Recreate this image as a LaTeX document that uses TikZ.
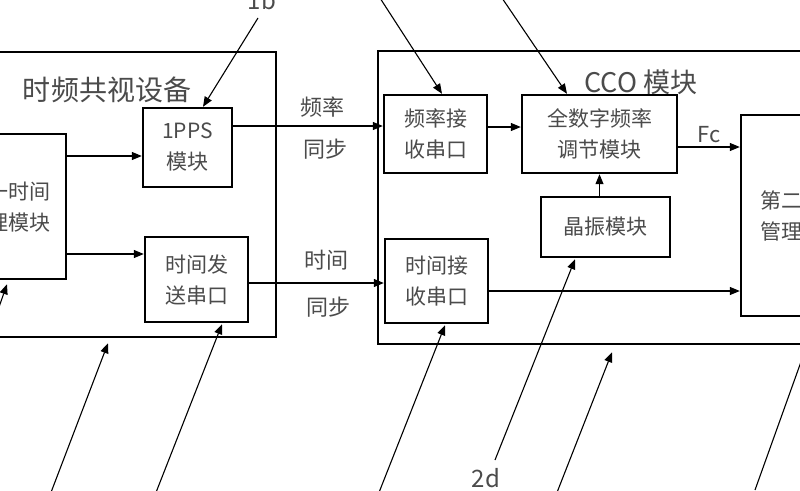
\documentclass[tikz,border=0pt]{standalone}
\usepackage{fontspec}
\setmainfont{Noto Sans CJK SC}
\usetikzlibrary{arrows.meta, calc, positioning}
\definecolor{txtgray}{RGB}{75,75,75}

\tikzset{
  blk/.style={draw, line width=2.4pt, inner sep=0pt, align=center, text=txtgray, font=\fontsize{21}{31}\selectfont},
  arr/.style={-{Triangle[length=10pt,width=8pt]}, line width=1.1pt},
  lbl/.style={text=txtgray, font=\fontsize{22}{26}\selectfont},
}

\begin{document}
\begin{tikzpicture}[x=1pt,y=-1pt]
    \path[use as bounding box, clip] (0,0) rectangle (800,490);
    \fill[white] (0,0) rectangle (800,490);

    % Draw the outer boxes
    \node[blk, minimum width=338pt, minimum height=285pt] (sysbox) at (107,194.5) {};
    \node[blk, minimum width=522pt, minimum height=293pt] (ccobox) at (639,197.5) {};
    \node[lbl, font=\fontsize{28}{30}\selectfont] (systitle) at (107,90) {时频共视设备};
    \node[lbl, font=\fontsize{27}{30}\selectfont] (ccotitle) at (641,82) {CCO 模块};

    % Draw the modules
    \node[blk, minimum width=114pt, minimum height=145pt] (mgmt1) at (9,206.5) {第一时间\\管理模块};
    \node[blk, minimum width=89pt, minimum height=79pt] (pps) at (187.5,147.5) {1PPS\\模块};
    \node[blk, minimum width=103pt, minimum height=85pt] (tsend) at (196.5,279.5) {时间发\\送串口};
    \node[blk, minimum width=103pt, minimum height=78pt] (frx) at (435.5,134) {频率接\\收串口};
    \node[blk, minimum width=155pt, minimum height=78pt] (dfc) at (599.5,134) {全数字频率\\调节模块};
    \node[blk, minimum width=129pt, minimum height=60pt] (xtal) at (605.5,227) {晶振模块};
    \node[blk, minimum width=103pt, minimum height=84pt] (trx) at (436.5,281) {时间接\\收串口};
    \node[blk, minimum width=122pt, minimum height=201pt] (mgmt2) at (802,215.5) {第二时间\\管理模块};

    % Draw the signal paths
    \draw[arr] ($(mgmt1.east |- pps.west)+(0,8.5)$) -- ($(pps.west)+(0,8.5)$);
    \draw[arr] ($(mgmt1.east |- tsend.west)+(0,-25.5)$) -- ($(tsend.west)+(0,-25.5)$);
    \draw[arr] ($(pps.east)+(0,-21.5)$) -- ($(frx.west |- pps.east)+(0,-21.5)$);
    \draw[arr] ($(tsend.east)+(0,3.5)$) -- ($(trx.west |- tsend.east)+(0,3.5)$);
    \draw[arr] ($(frx.east)+(0,-7)$) -- ($(dfc.west)+(0,-7)$);
    \draw[arr] ($(dfc.east)+(0,13)$) -- node[lbl, above=0pt] (fclbl) {Fc} ($(mgmt2.west |- dfc.east)+(0,13)$);
    \draw[arr] (xtal.north -| dfc.south) -- (dfc.south);
    \draw[arr] ($(trx.east)+(0,10)$) -- ($(mgmt2.west |- trx.east)+(0,10)$);

    % Label the links
    \node[lbl] (frqlbl) at (322,107) {频率};
    \node[lbl] (frqsync) at (325,149) {同步};
    \node[lbl] (timelbl) at (326,260) {时间};
    \node[lbl] (timesync) at (328,307) {同步};

    % Draw the reference leaders
    \node[lbl, font=\fontsize{24}{26}\selectfont] (lab1b) at (262,0) {1b};
    \coordinate (p1b) at (258,18);
    \draw[arr] (p1b) -- ([xshift=15.5pt]pps.north);
    \coordinate (pfrx) at (380,-2);
    \draw[arr] (pfrx) -- ([xshift=6.5pt]frx.north);
    \coordinate (pdfc) at (502,-2);
    \draw[arr] (pdfc) -- ([xshift=-32.5pt]dfc.north);
    \coordinate (psys) at (50,495);
    \draw[arr] (psys) -- ([xshift=1pt,yshift=-5pt]sysbox.south);
    \coordinate (ptsend) at (155,495);
    \draw[arr] (ptsend) -- ([xshift=25.5pt,yshift=-1pt]tsend.south);
    \coordinate (ptrx) at (378,495);
    \draw[arr] (ptrx) -- ([xshift=8.5pt,yshift=-1pt]trx.south);
    \node[lbl, font=\fontsize{24}{26}\selectfont] (lab2d) at (486,478) {2d};
    \coordinate (pxtal) at (495,460);
    \draw[arr] (pxtal) -- ([xshift=-30.5pt,yshift=-1pt]xtal.south);
    \coordinate (pcco) at (556,495);
    \draw[arr] (pcco) -- ([xshift=-27pt,yshift=-7pt]ccobox.south);
    \coordinate (pmgmt2) at (755,490);
    \draw[arr] (pmgmt2) -- ([xshift=15pt]mgmt2.south);
    \coordinate (pmgmt1) at (-30,390);
    \draw[arr] (pmgmt1) -- ([xshift=-2pt,yshift=-4pt]mgmt1.south);
\end{tikzpicture}
\end{document}
